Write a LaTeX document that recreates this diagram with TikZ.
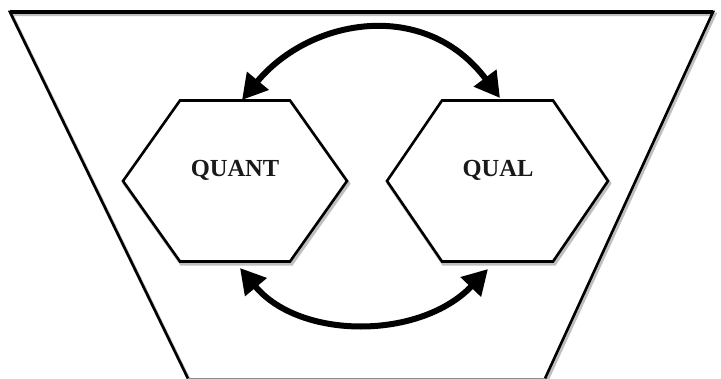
\documentclass[tikz,border=0pt]{standalone}
\usepackage{fontspec}
\setmainfont{Liberation Serif}
\usetikzlibrary{arrows.meta}
\tikzset{
  shd/.style={preaction={draw=black!25, line width=3.5pt, transform canvas={xshift=1.5pt,yshift=-2.5pt}}},
  frame/.style={draw=black, line width=2.6pt, line join=miter},
  hexline/.style={draw=black, fill=white, line width=2.6pt, line join=miter},
  lbl/.style={font=\fontsize{24.5}{27}\selectfont\bfseries, text=black!90},
  bigarrow/.style={line width=6pt, {Triangle[length=25pt,width=27pt]}-{Triangle[length=25pt,width=27pt]}},
}
\begin{document}
\begin{tikzpicture}[x=1pt,y=-1pt]
\useasboundingbox (0,0) rectangle (721,379);
% funnel
\coordinate (tl) at (10,12);
\coordinate (tr) at (713,12);
\coordinate (br) at (545,378.5);
\coordinate (bl) at (188,378.5);
\draw[frame,shd] (bl) -- (tl) -- (tr) -- (br);
\draw[frame,line width=3.6pt] (tl) -- (tr);
\draw[black!45, line width=1.5pt] (bl) -- (br);
% hexagons
\draw[hexline,shd] (180,100.5) -- (290,100.5) -- (347,181) -- (290,261.5) -- (180,261.5) -- (123,181) -- cycle;
\draw[hexline,shd] (442,100.5) -- (553,100.5) -- (608,181) -- (553,261.5) -- (442,261.5) -- (387,181) -- cycle;
\node[lbl] (quant) at (235,170) {QUANT};
\node[lbl] (qual) at (498,170) {QUAL};
% arrow end points
\coordinate (a1) at (242,100);
\coordinate (a2) at (500,98);
\coordinate (b1) at (240,268);
\coordinate (b2) at (488,269);
\draw[bigarrow] (a1) .. controls (310,18) and (425,-2) .. (a2);
\draw[bigarrow] (b1) .. controls (300,340) and (420,340) .. (b2);
\end{tikzpicture}
\end{document}
